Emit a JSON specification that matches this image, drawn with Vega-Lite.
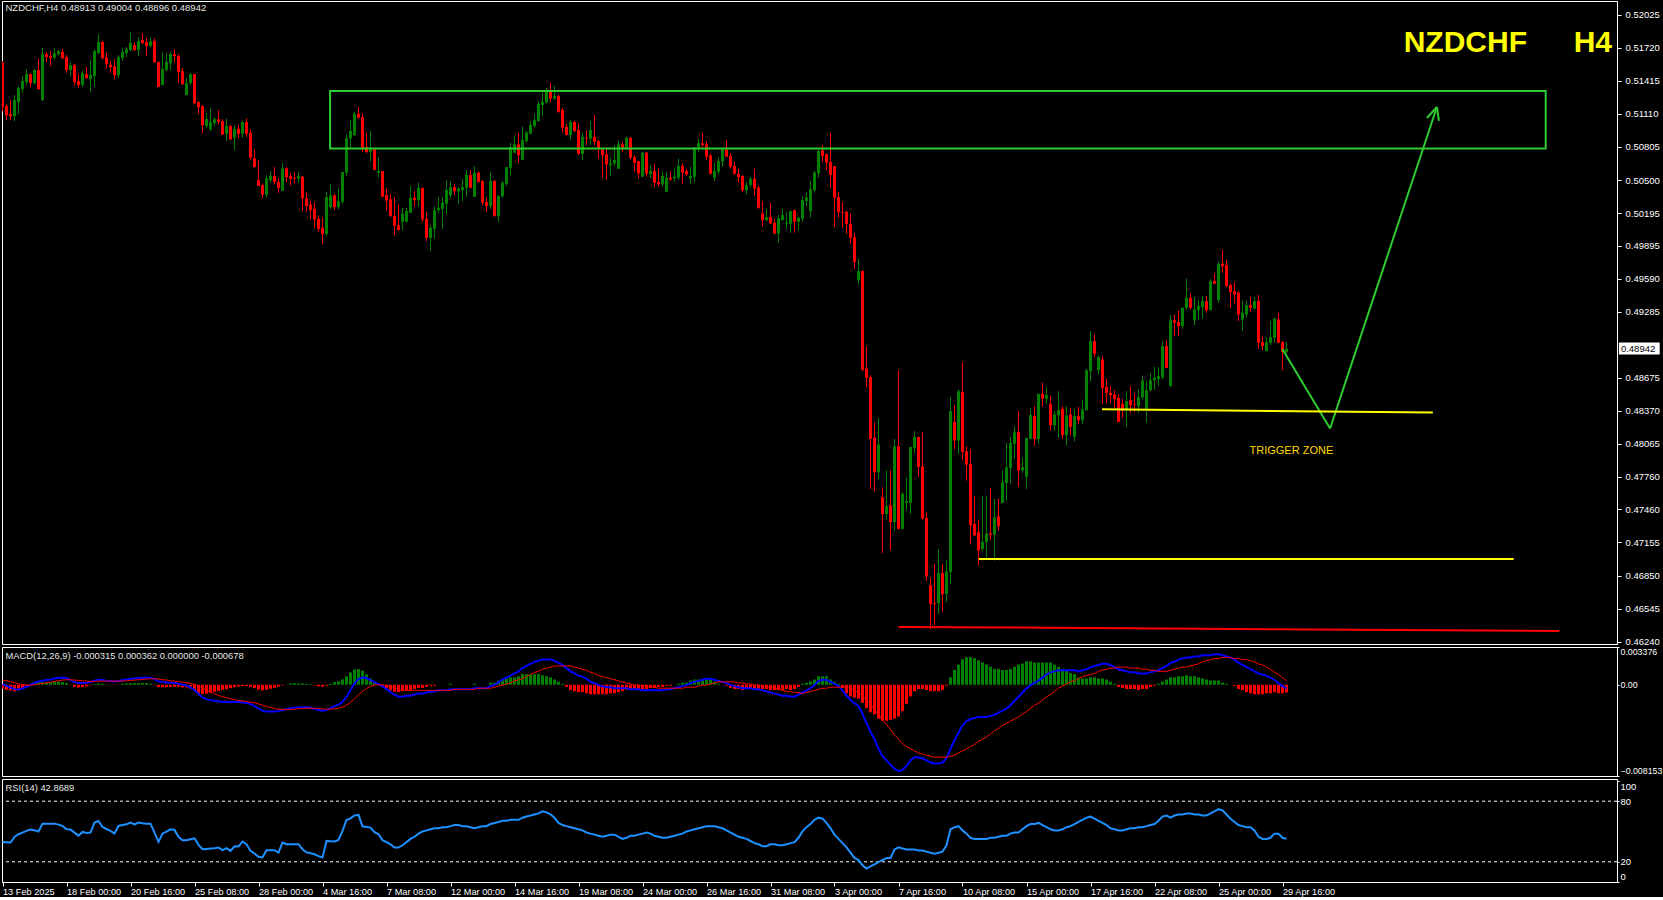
{
"$schema":"https://vega.github.io/schema/vega-lite/v6.json",
"background":"#000000",
"padding":{"left":1,"top":0,"right":0,"bottom":0},
"bounds":"flush",
"spacing":3,
"config":{
 "view":{"stroke":"#ffffff","strokeWidth":1},
 "axis":{"grid":false,"title":null,"domainColor":"#ffffff","tickColor":"#ffffff","labelColor":"#ffffff","labelFont":"Liberation Sans","labelFontSize":9.5,"tickSize":2,"labelPadding":1,"labelOverlap":false,"tickCount":30}
},
"datasets":{
"ohlc":[
{"i":0,"o":0.51582,"h":0.51597,"l":0.51135,"c":0.51172},
{"i":1,"o":0.51182,"h":0.51197,"l":0.51052,"c":0.51098},
{"i":2,"o":0.51108,"h":0.51237,"l":0.51052,"c":0.51089},
{"i":3,"o":0.51089,"h":0.51283,"l":0.51043,"c":0.51237},
{"i":4,"o":0.51219,"h":0.51360,"l":0.51108,"c":0.51351},
{"i":5,"o":0.51339,"h":0.51459,"l":0.51305,"c":0.51413},
{"i":6,"o":0.51403,"h":0.51524,"l":0.51382,"c":0.51477},
{"i":7,"o":0.51477,"h":0.51480,"l":0.51357,"c":0.51394},
{"i":8,"o":0.51394,"h":0.51524,"l":0.51382,"c":0.51514},
{"i":9,"o":0.51514,"h":0.51619,"l":0.51329,"c":0.51339},
{"i":10,"o":0.51237,"h":0.51718,"l":0.51230,"c":0.51662},
{"i":11,"o":0.51662,"h":0.51681,"l":0.51588,"c":0.51637},
{"i":12,"o":0.51644,"h":0.51690,"l":0.51551,"c":0.51628},
{"i":13,"o":0.51628,"h":0.51718,"l":0.51613,"c":0.51668},
{"i":14,"o":0.51662,"h":0.51699,"l":0.51650,"c":0.51690},
{"i":15,"o":0.51681,"h":0.51708,"l":0.51616,"c":0.51625},
{"i":16,"o":0.51634,"h":0.51653,"l":0.51490,"c":0.51514},
{"i":17,"o":0.51514,"h":0.51582,"l":0.51459,"c":0.51560},
{"i":18,"o":0.51560,"h":0.51576,"l":0.51373,"c":0.51403},
{"i":19,"o":0.51413,"h":0.51477,"l":0.51351,"c":0.51376},
{"i":20,"o":0.51376,"h":0.51505,"l":0.51360,"c":0.51487},
{"i":21,"o":0.51477,"h":0.51542,"l":0.51437,"c":0.51440},
{"i":22,"o":0.51431,"h":0.51607,"l":0.51311,"c":0.51468},
{"i":23,"o":0.51459,"h":0.51705,"l":0.51366,"c":0.51690},
{"i":24,"o":0.51671,"h":0.51847,"l":0.51662,"c":0.51773},
{"i":25,"o":0.51773,"h":0.51782,"l":0.51613,"c":0.51625},
{"i":26,"o":0.51634,"h":0.51674,"l":0.51527,"c":0.51570},
{"i":27,"o":0.51564,"h":0.51597,"l":0.51490,"c":0.51542},
{"i":28,"o":0.51551,"h":0.51616,"l":0.51431,"c":0.51468},
{"i":29,"o":0.51468,"h":0.51653,"l":0.51443,"c":0.51634},
{"i":30,"o":0.51625,"h":0.51721,"l":0.51601,"c":0.51681},
{"i":31,"o":0.51671,"h":0.51727,"l":0.51634,"c":0.51708},
{"i":32,"o":0.51699,"h":0.51865,"l":0.51690,"c":0.51764},
{"i":33,"o":0.51745,"h":0.51773,"l":0.51690,"c":0.51699},
{"i":34,"o":0.51699,"h":0.51819,"l":0.51647,"c":0.51782},
{"i":35,"o":0.51791,"h":0.51856,"l":0.51755,"c":0.51764},
{"i":36,"o":0.51773,"h":0.51810,"l":0.51644,"c":0.51736},
{"i":37,"o":0.51736,"h":0.51810,"l":0.51727,"c":0.51782},
{"i":38,"o":0.51782,"h":0.51807,"l":0.51579,"c":0.51588},
{"i":39,"o":0.51588,"h":0.51597,"l":0.51357,"c":0.51357},
{"i":40,"o":0.51376,"h":0.51681,"l":0.51376,"c":0.51524},
{"i":41,"o":0.51514,"h":0.51671,"l":0.51505,"c":0.51588},
{"i":42,"o":0.51579,"h":0.51681,"l":0.51514,"c":0.51662},
{"i":43,"o":0.51662,"h":0.51708,"l":0.51588,"c":0.51644},
{"i":44,"o":0.51644,"h":0.51662,"l":0.51394,"c":0.51496},
{"i":45,"o":0.51505,"h":0.51533,"l":0.51376,"c":0.51385},
{"i":46,"o":0.51283,"h":0.51440,"l":0.51283,"c":0.51394},
{"i":47,"o":0.51394,"h":0.51487,"l":0.51376,"c":0.51477},
{"i":48,"o":0.51477,"h":0.51477,"l":0.51200,"c":0.51209},
{"i":49,"o":0.51219,"h":0.51228,"l":0.51108,"c":0.51172},
{"i":50,"o":0.51182,"h":0.51191,"l":0.50932,"c":0.51006},
{"i":51,"o":0.50997,"h":0.51117,"l":0.50978,"c":0.51062},
{"i":52,"o":0.50969,"h":0.51163,"l":0.50951,"c":0.51034},
{"i":53,"o":0.51025,"h":0.51080,"l":0.50997,"c":0.51062},
{"i":54,"o":0.51060,"h":0.51143,"l":0.51014,"c":0.51035},
{"i":55,"o":0.51044,"h":0.51060,"l":0.50915,"c":0.50921},
{"i":56,"o":0.50927,"h":0.51066,"l":0.50860,"c":0.50998},
{"i":57,"o":0.50998,"h":0.51007,"l":0.50869,"c":0.50875},
{"i":58,"o":0.50890,"h":0.50998,"l":0.50776,"c":0.50974},
{"i":59,"o":0.50974,"h":0.51007,"l":0.50884,"c":0.50927},
{"i":60,"o":0.50927,"h":0.51044,"l":0.50890,"c":0.51035},
{"i":61,"o":0.51035,"h":0.51069,"l":0.50897,"c":0.50927},
{"i":62,"o":0.50937,"h":0.50967,"l":0.50684,"c":0.50706},
{"i":63,"o":0.50699,"h":0.50783,"l":0.50613,"c":0.50619},
{"i":64,"o":0.50499,"h":0.50684,"l":0.50444,"c":0.50444},
{"i":65,"o":0.50453,"h":0.50468,"l":0.50330,"c":0.50364},
{"i":66,"o":0.50364,"h":0.50542,"l":0.50336,"c":0.50515},
{"i":67,"o":0.50499,"h":0.50582,"l":0.50475,"c":0.50536},
{"i":68,"o":0.50536,"h":0.50619,"l":0.50459,"c":0.50481},
{"i":69,"o":0.50481,"h":0.50512,"l":0.50382,"c":0.50428},
{"i":70,"o":0.50401,"h":0.50653,"l":0.50401,"c":0.50607},
{"i":71,"o":0.50607,"h":0.50619,"l":0.50481,"c":0.50527},
{"i":72,"o":0.50536,"h":0.50561,"l":0.50450,"c":0.50512},
{"i":73,"o":0.50521,"h":0.50573,"l":0.50468,"c":0.50512},
{"i":74,"o":0.50512,"h":0.50573,"l":0.50475,"c":0.50536},
{"i":75,"o":0.50530,"h":0.50536,"l":0.50213,"c":0.50330},
{"i":76,"o":0.50330,"h":0.50388,"l":0.50207,"c":0.50259},
{"i":77,"o":0.50274,"h":0.50311,"l":0.50136,"c":0.50222},
{"i":78,"o":0.50234,"h":0.50296,"l":0.50059,"c":0.50136},
{"i":79,"o":0.50142,"h":0.50173,"l":0.50022,"c":0.50050},
{"i":80,"o":0.50059,"h":0.50157,"l":0.49911,"c":0.50003},
{"i":81,"o":0.50003,"h":0.50388,"l":0.49982,"c":0.50342},
{"i":82,"o":0.50250,"h":0.50459,"l":0.50234,"c":0.50358},
{"i":83,"o":0.50358,"h":0.50373,"l":0.50222,"c":0.50250},
{"i":84,"o":0.50250,"h":0.50422,"l":0.50228,"c":0.50305},
{"i":85,"o":0.50299,"h":0.50573,"l":0.50281,"c":0.50573},
{"i":86,"o":0.50567,"h":0.50921,"l":0.50539,"c":0.50884},
{"i":87,"o":0.50884,"h":0.51054,"l":0.50798,"c":0.50952},
{"i":88,"o":0.50915,"h":0.51128,"l":0.50906,"c":0.51112},
{"i":89,"o":0.51112,"h":0.51174,"l":0.51069,"c":0.51075},
{"i":90,"o":0.51081,"h":0.51115,"l":0.50758,"c":0.50798},
{"i":91,"o":0.50804,"h":0.50937,"l":0.50746,"c":0.50758},
{"i":92,"o":0.50761,"h":0.50952,"l":0.50669,"c":0.50783},
{"i":93,"o":0.50783,"h":0.50789,"l":0.50592,"c":0.50592},
{"i":94,"o":0.50567,"h":0.50712,"l":0.50521,"c":0.50582},
{"i":95,"o":0.50582,"h":0.50582,"l":0.50345,"c":0.50345},
{"i":96,"o":0.50361,"h":0.50419,"l":0.50219,"c":0.50311},
{"i":97,"o":0.50321,"h":0.50367,"l":0.50157,"c":0.50167},
{"i":98,"o":0.50167,"h":0.50342,"l":0.49991,"c":0.50080},
{"i":99,"o":0.50083,"h":0.50274,"l":0.50037,"c":0.50037},
{"i":100,"o":0.50114,"h":0.50244,"l":0.50037,"c":0.50188},
{"i":101,"o":0.50114,"h":0.50244,"l":0.50114,"c":0.50213},
{"i":102,"o":0.50197,"h":0.50444,"l":0.50197,"c":0.50336},
{"i":103,"o":0.50336,"h":0.50398,"l":0.50259,"c":0.50314},
{"i":104,"o":0.50314,"h":0.50475,"l":0.50253,"c":0.50428},
{"i":105,"o":0.50428,"h":0.50428,"l":0.50114,"c":0.50136},
{"i":106,"o":0.50142,"h":0.50204,"l":0.49936,"c":0.49966},
{"i":107,"o":0.49966,"h":0.50083,"l":0.49849,"c":0.50059},
{"i":108,"o":0.50049,"h":0.50259,"l":0.49957,"c":0.50222},
{"i":109,"o":0.50222,"h":0.50342,"l":0.50197,"c":0.50243},
{"i":110,"o":0.50234,"h":0.50342,"l":0.50049,"c":0.50290},
{"i":111,"o":0.50280,"h":0.50499,"l":0.50188,"c":0.50407},
{"i":112,"o":0.50360,"h":0.50490,"l":0.50336,"c":0.50434},
{"i":113,"o":0.50434,"h":0.50465,"l":0.50360,"c":0.50397},
{"i":114,"o":0.50397,"h":0.50434,"l":0.50280,"c":0.50419},
{"i":115,"o":0.50407,"h":0.50511,"l":0.50305,"c":0.50434},
{"i":116,"o":0.50428,"h":0.50591,"l":0.50345,"c":0.50545},
{"i":117,"o":0.50545,"h":0.50591,"l":0.50428,"c":0.50428},
{"i":118,"o":0.50345,"h":0.50628,"l":0.50345,"c":0.50567},
{"i":119,"o":0.50567,"h":0.50582,"l":0.50474,"c":0.50484},
{"i":120,"o":0.50490,"h":0.50499,"l":0.50265,"c":0.50290},
{"i":121,"o":0.50296,"h":0.50336,"l":0.50206,"c":0.50259},
{"i":122,"o":0.50259,"h":0.50573,"l":0.50234,"c":0.50490},
{"i":123,"o":0.50490,"h":0.50499,"l":0.50166,"c":0.50166},
{"i":124,"o":0.50166,"h":0.50360,"l":0.50114,"c":0.50351},
{"i":125,"o":0.50351,"h":0.50490,"l":0.50336,"c":0.50474},
{"i":126,"o":0.50465,"h":0.50619,"l":0.50444,"c":0.50619},
{"i":127,"o":0.50613,"h":0.50844,"l":0.50545,"c":0.50804},
{"i":128,"o":0.50752,"h":0.50906,"l":0.50752,"c":0.50829},
{"i":129,"o":0.50829,"h":0.50936,"l":0.50659,"c":0.50730},
{"i":130,"o":0.50687,"h":0.50992,"l":0.50687,"c":0.50869},
{"i":131,"o":0.50860,"h":0.50952,"l":0.50844,"c":0.50936},
{"i":132,"o":0.50927,"h":0.51044,"l":0.50921,"c":0.51007},
{"i":133,"o":0.50998,"h":0.51112,"l":0.50983,"c":0.51053},
{"i":134,"o":0.51044,"h":0.51229,"l":0.51038,"c":0.51204},
{"i":135,"o":0.51192,"h":0.51306,"l":0.51090,"c":0.51220},
{"i":136,"o":0.51214,"h":0.51349,"l":0.51207,"c":0.51321},
{"i":137,"o":0.51321,"h":0.51398,"l":0.51214,"c":0.51251},
{"i":138,"o":0.51251,"h":0.51368,"l":0.51238,"c":0.51275},
{"i":139,"o":0.51275,"h":0.51291,"l":0.51121,"c":0.51130},
{"i":140,"o":0.51146,"h":0.51164,"l":0.50936,"c":0.50983},
{"i":141,"o":0.50989,"h":0.51020,"l":0.50912,"c":0.50915},
{"i":142,"o":0.50915,"h":0.51053,"l":0.50875,"c":0.51035},
{"i":143,"o":0.51035,"h":0.51044,"l":0.50943,"c":0.50952},
{"i":144,"o":0.50961,"h":0.51023,"l":0.50730,"c":0.50742},
{"i":145,"o":0.50742,"h":0.50936,"l":0.50681,"c":0.50899},
{"i":146,"o":0.50890,"h":0.50961,"l":0.50822,"c":0.50881},
{"i":147,"o":0.50881,"h":0.51044,"l":0.50822,"c":0.50961},
{"i":148,"o":0.50899,"h":0.51100,"l":0.50822,"c":0.50853},
{"i":149,"o":0.50860,"h":0.50869,"l":0.50696,"c":0.50792},
{"i":150,"o":0.50782,"h":0.50782,"l":0.50527,"c":0.50727},
{"i":151,"o":0.50736,"h":0.50782,"l":0.50505,"c":0.50644},
{"i":152,"o":0.50635,"h":0.50705,"l":0.50536,"c":0.50653},
{"i":153,"o":0.50653,"h":0.50822,"l":0.50628,"c":0.50684},
{"i":154,"o":0.50604,"h":0.50860,"l":0.50604,"c":0.50829},
{"i":155,"o":0.50829,"h":0.50850,"l":0.50758,"c":0.50798},
{"i":156,"o":0.50798,"h":0.50899,"l":0.50789,"c":0.50890},
{"i":157,"o":0.50890,"h":0.50896,"l":0.50690,"c":0.50705},
{"i":158,"o":0.50712,"h":0.50727,"l":0.50576,"c":0.50659},
{"i":159,"o":0.50675,"h":0.50675,"l":0.50514,"c":0.50561},
{"i":160,"o":0.50530,"h":0.50758,"l":0.50530,"c":0.50752},
{"i":161,"o":0.50752,"h":0.50758,"l":0.50530,"c":0.50558},
{"i":162,"o":0.50552,"h":0.50629,"l":0.50521,"c":0.50583},
{"i":163,"o":0.50583,"h":0.50651,"l":0.50438,"c":0.50475},
{"i":164,"o":0.50481,"h":0.50605,"l":0.50438,"c":0.50460},
{"i":165,"o":0.50460,"h":0.50574,"l":0.50444,"c":0.50537},
{"i":166,"o":0.50392,"h":0.50574,"l":0.50392,"c":0.50521},
{"i":167,"o":0.50521,"h":0.50583,"l":0.50491,"c":0.50505},
{"i":168,"o":0.50515,"h":0.50605,"l":0.50484,"c":0.50531},
{"i":169,"o":0.50521,"h":0.50697,"l":0.50500,"c":0.50629},
{"i":170,"o":0.50629,"h":0.50651,"l":0.50466,"c":0.50568},
{"i":171,"o":0.50583,"h":0.50605,"l":0.50537,"c":0.50552},
{"i":172,"o":0.50515,"h":0.50620,"l":0.50466,"c":0.50537},
{"i":173,"o":0.50531,"h":0.50805,"l":0.50475,"c":0.50799},
{"i":174,"o":0.50799,"h":0.50882,"l":0.50762,"c":0.50839},
{"i":175,"o":0.50839,"h":0.50934,"l":0.50799,"c":0.50823},
{"i":176,"o":0.50829,"h":0.50860,"l":0.50682,"c":0.50715},
{"i":177,"o":0.50728,"h":0.50737,"l":0.50552,"c":0.50558},
{"i":178,"o":0.50521,"h":0.50660,"l":0.50491,"c":0.50583},
{"i":179,"o":0.50577,"h":0.50706,"l":0.50552,"c":0.50675},
{"i":180,"o":0.50669,"h":0.50799,"l":0.50620,"c":0.50783},
{"i":181,"o":0.50783,"h":0.50869,"l":0.50715,"c":0.50715},
{"i":182,"o":0.50722,"h":0.50743,"l":0.50605,"c":0.50623},
{"i":183,"o":0.50629,"h":0.50666,"l":0.50552,"c":0.50558},
{"i":184,"o":0.50558,"h":0.50605,"l":0.50475,"c":0.50528},
{"i":185,"o":0.50537,"h":0.50543,"l":0.50389,"c":0.50404},
{"i":186,"o":0.50404,"h":0.50481,"l":0.50367,"c":0.50454},
{"i":187,"o":0.50454,"h":0.50528,"l":0.50429,"c":0.50512},
{"i":188,"o":0.50512,"h":0.50605,"l":0.50352,"c":0.50420},
{"i":189,"o":0.50429,"h":0.50451,"l":0.50235,"c":0.50244},
{"i":190,"o":0.50189,"h":0.50306,"l":0.50069,"c":0.50130},
{"i":191,"o":0.50130,"h":0.50238,"l":0.50121,"c":0.50158},
{"i":192,"o":0.50158,"h":0.50290,"l":0.50090,"c":0.50099},
{"i":193,"o":0.50106,"h":0.50136,"l":0.49998,"c":0.50007},
{"i":194,"o":0.50007,"h":0.50176,"l":0.49921,"c":0.50146},
{"i":195,"o":0.50130,"h":0.50238,"l":0.50130,"c":0.50176},
{"i":196,"o":0.50096,"h":0.50204,"l":0.50050,"c":0.50106},
{"i":197,"o":0.50096,"h":0.50213,"l":0.50013,"c":0.50213},
{"i":198,"o":0.50220,"h":0.50229,"l":0.50013,"c":0.50115},
{"i":199,"o":0.50115,"h":0.50161,"l":0.50038,"c":0.50152},
{"i":200,"o":0.50143,"h":0.50352,"l":0.50112,"c":0.50315},
{"i":201,"o":0.50306,"h":0.50383,"l":0.50260,"c":0.50337},
{"i":202,"o":0.50213,"h":0.50491,"l":0.50152,"c":0.50414},
{"i":203,"o":0.50407,"h":0.50583,"l":0.50383,"c":0.50568},
{"i":204,"o":0.50561,"h":0.50783,"l":0.50521,"c":0.50768},
{"i":205,"o":0.50774,"h":0.50823,"l":0.50666,"c":0.50722},
{"i":206,"o":0.50737,"h":0.50746,"l":0.50592,"c":0.50660},
{"i":207,"o":0.50666,"h":0.50934,"l":0.50429,"c":0.50546},
{"i":208,"o":0.50629,"h":0.50629,"l":0.50066,"c":0.50337},
{"i":209,"o":0.50343,"h":0.50389,"l":0.50152,"c":0.50207},
{"i":210,"o":0.50207,"h":0.50297,"l":0.50059,"c":0.50198},
{"i":211,"o":0.50207,"h":0.50213,"l":0.50004,"c":0.50096},
{"i":212,"o":0.50096,"h":0.50192,"l":0.49912,"c":0.49967},
{"i":213,"o":0.49973,"h":0.50013,"l":0.49681,"c":0.49742},
{"i":214,"o":0.49576,"h":0.49773,"l":0.49536,"c":0.49659},
{"i":215,"o":0.49659,"h":0.49665,"l":0.48735,"c":0.48750},
{"i":216,"o":0.48761,"h":0.48967,"l":0.48588,"c":0.48675},
{"i":217,"o":0.48681,"h":0.48699,"l":0.47649,"c":0.48111},
{"i":218,"o":0.48120,"h":0.48259,"l":0.47627,"c":0.47803},
{"i":219,"o":0.47803,"h":0.48305,"l":0.47741,"c":0.48059},
{"i":220,"o":0.47572,"h":0.47664,"l":0.47058,"c":0.47418},
{"i":221,"o":0.47418,"h":0.47821,"l":0.47366,"c":0.47489},
{"i":222,"o":0.47498,"h":0.47821,"l":0.47082,"c":0.47344},
{"i":223,"o":0.47344,"h":0.48111,"l":0.47267,"c":0.48043},
{"i":224,"o":0.48043,"h":0.48745,"l":0.47273,"c":0.47282},
{"i":225,"o":0.47282,"h":0.47618,"l":0.47273,"c":0.47603},
{"i":226,"o":0.47520,"h":0.47751,"l":0.47458,"c":0.47535},
{"i":227,"o":0.47520,"h":0.48037,"l":0.47418,"c":0.48037},
{"i":228,"o":0.48028,"h":0.48182,"l":0.47982,"c":0.48129},
{"i":229,"o":0.48129,"h":0.48129,"l":0.47760,"c":0.47852},
{"i":230,"o":0.47858,"h":0.48176,"l":0.47366,"c":0.47375},
{"i":231,"o":0.47381,"h":0.47436,"l":0.46802,"c":0.46842},
{"i":232,"o":0.46759,"h":0.46827,"l":0.46355,"c":0.46586},
{"i":233,"o":0.46596,"h":0.46956,"l":0.46395,"c":0.46586},
{"i":234,"o":0.46596,"h":0.47095,"l":0.46494,"c":0.46873},
{"i":235,"o":0.46873,"h":0.46956,"l":0.46512,"c":0.46679},
{"i":236,"o":0.46679,"h":0.46990,"l":0.46605,"c":0.46888},
{"i":237,"o":0.46882,"h":0.48496,"l":0.46771,"c":0.48367},
{"i":238,"o":0.48265,"h":0.48422,"l":0.48019,"c":0.48096},
{"i":239,"o":0.48096,"h":0.48567,"l":0.47972,"c":0.48551},
{"i":240,"o":0.48542,"h":0.48819,"l":0.47911,"c":0.47991},
{"i":241,"o":0.47997,"h":0.48043,"l":0.47726,"c":0.47874},
{"i":242,"o":0.47880,"h":0.48019,"l":0.47135,"c":0.47313},
{"i":243,"o":0.47326,"h":0.47581,"l":0.47212,"c":0.47221},
{"i":244,"o":0.47249,"h":0.47366,"l":0.46941,"c":0.47082},
{"i":245,"o":0.47095,"h":0.47581,"l":0.47073,"c":0.47159},
{"i":246,"o":0.47159,"h":0.47581,"l":0.47005,"c":0.47239},
{"i":247,"o":0.47239,"h":0.47658,"l":0.47181,"c":0.47227},
{"i":248,"o":0.47227,"h":0.47557,"l":0.46987,"c":0.47387},
{"i":249,"o":0.47396,"h":0.47560,"l":0.47264,"c":0.47304},
{"i":250,"o":0.47520,"h":0.47821,"l":0.47520,"c":0.47711},
{"i":251,"o":0.47704,"h":0.48074,"l":0.47541,"c":0.47849},
{"i":252,"o":0.47843,"h":0.48129,"l":0.47698,"c":0.48074},
{"i":253,"o":0.48065,"h":0.48228,"l":0.47926,"c":0.48173},
{"i":254,"o":0.48173,"h":0.48367,"l":0.47667,"c":0.47821},
{"i":255,"o":0.47821,"h":0.47935,"l":0.47797,"c":0.47849},
{"i":256,"o":0.47760,"h":0.48120,"l":0.47649,"c":0.48120},
{"i":257,"o":0.48111,"h":0.48397,"l":0.48105,"c":0.48330},
{"i":258,"o":0.48320,"h":0.48413,"l":0.48049,"c":0.48111},
{"i":259,"o":0.48111,"h":0.48527,"l":0.48065,"c":0.48527},
{"i":260,"o":0.48527,"h":0.48628,"l":0.48407,"c":0.48481},
{"i":261,"o":0.48481,"h":0.48588,"l":0.48434,"c":0.48514},
{"i":262,"o":0.48434,"h":0.48505,"l":0.48188,"c":0.48237},
{"i":263,"o":0.48237,"h":0.48367,"l":0.48188,"c":0.48336},
{"i":264,"o":0.48330,"h":0.48551,"l":0.48120,"c":0.48376},
{"i":265,"o":0.48388,"h":0.48413,"l":0.48111,"c":0.48145},
{"i":266,"o":0.48145,"h":0.48413,"l":0.48049,"c":0.48327},
{"i":267,"o":0.48336,"h":0.48397,"l":0.48142,"c":0.48222},
{"i":268,"o":0.48129,"h":0.48382,"l":0.48089,"c":0.48320},
{"i":269,"o":0.48320,"h":0.48406,"l":0.48249,"c":0.48283},
{"i":270,"o":0.48283,"h":0.48474,"l":0.48249,"c":0.48382},
{"i":271,"o":0.48375,"h":0.48757,"l":0.48375,"c":0.48745},
{"i":272,"o":0.48736,"h":0.49105,"l":0.48643,"c":0.49013},
{"i":273,"o":0.49013,"h":0.49075,"l":0.48868,"c":0.48896},
{"i":274,"o":0.48745,"h":0.48881,"l":0.48705,"c":0.48865},
{"i":275,"o":0.48844,"h":0.48874,"l":0.48434,"c":0.48582},
{"i":276,"o":0.48591,"h":0.48665,"l":0.48443,"c":0.48536},
{"i":277,"o":0.48536,"h":0.48597,"l":0.48437,"c":0.48514},
{"i":278,"o":0.48520,"h":0.48560,"l":0.48397,"c":0.48480},
{"i":279,"o":0.48489,"h":0.48520,"l":0.48268,"c":0.48268},
{"i":280,"o":0.48434,"h":0.48480,"l":0.48305,"c":0.48382},
{"i":281,"o":0.48382,"h":0.48551,"l":0.48221,"c":0.48459},
{"i":282,"o":0.48468,"h":0.48597,"l":0.48351,"c":0.48422},
{"i":283,"o":0.48428,"h":0.48529,"l":0.48360,"c":0.48422},
{"i":284,"o":0.48412,"h":0.48566,"l":0.48351,"c":0.48496},
{"i":285,"o":0.48496,"h":0.48696,"l":0.48474,"c":0.48650},
{"i":286,"o":0.48388,"h":0.48643,"l":0.48258,"c":0.48560},
{"i":287,"o":0.48560,"h":0.48714,"l":0.48551,"c":0.48653},
{"i":288,"o":0.48650,"h":0.48773,"l":0.48566,"c":0.48674},
{"i":289,"o":0.48665,"h":0.48773,"l":0.48603,"c":0.48690},
{"i":290,"o":0.48680,"h":0.49004,"l":0.48659,"c":0.48967},
{"i":291,"o":0.48967,"h":0.49022,"l":0.48767,"c":0.48767},
{"i":292,"o":0.48597,"h":0.49253,"l":0.48597,"c":0.49207},
{"i":293,"o":0.49207,"h":0.49259,"l":0.49059,"c":0.49182},
{"i":294,"o":0.49189,"h":0.49296,"l":0.49059,"c":0.49152},
{"i":295,"o":0.49152,"h":0.49321,"l":0.49127,"c":0.49321},
{"i":296,"o":0.49321,"h":0.49589,"l":0.49306,"c":0.49413},
{"i":297,"o":0.49413,"h":0.49453,"l":0.49306,"c":0.49321},
{"i":298,"o":0.49207,"h":0.49420,"l":0.49161,"c":0.49306},
{"i":299,"o":0.49299,"h":0.49392,"l":0.49207,"c":0.49337},
{"i":300,"o":0.49327,"h":0.49429,"l":0.49219,"c":0.49383},
{"i":301,"o":0.49383,"h":0.49429,"l":0.49275,"c":0.49299},
{"i":302,"o":0.49299,"h":0.49583,"l":0.49299,"c":0.49567},
{"i":303,"o":0.49567,"h":0.49635,"l":0.49543,"c":0.49543},
{"i":304,"o":0.49392,"h":0.49746,"l":0.49367,"c":0.49728},
{"i":305,"o":0.49728,"h":0.49854,"l":0.49644,"c":0.49706},
{"i":306,"o":0.49715,"h":0.49761,"l":0.49512,"c":0.49521},
{"i":307,"o":0.49530,"h":0.49543,"l":0.49321,"c":0.49466},
{"i":308,"o":0.49475,"h":0.49558,"l":0.49361,"c":0.49444},
{"i":309,"o":0.49460,"h":0.49475,"l":0.49198,"c":0.49259},
{"i":310,"o":0.49213,"h":0.49389,"l":0.49105,"c":0.49275},
{"i":311,"o":0.49259,"h":0.49389,"l":0.49229,"c":0.49346},
{"i":312,"o":0.49346,"h":0.49420,"l":0.49284,"c":0.49321},
{"i":313,"o":0.49312,"h":0.49423,"l":0.49306,"c":0.49383},
{"i":314,"o":0.49383,"h":0.49438,"l":0.48942,"c":0.48998},
{"i":315,"o":0.49004,"h":0.49065,"l":0.48930,"c":0.48967},
{"i":316,"o":0.48921,"h":0.49050,"l":0.48921,"c":0.49004},
{"i":317,"o":0.48998,"h":0.49198,"l":0.48976,"c":0.49050},
{"i":318,"o":0.49044,"h":0.49229,"l":0.48998,"c":0.49222},
{"i":319,"o":0.49213,"h":0.49275,"l":0.48998,"c":0.48998},
{"i":320,"o":0.49004,"h":0.49013,"l":0.48745,"c":0.48914},
{"i":321,"o":0.48913,"h":0.49004,"l":0.48896,"c":0.48942}
],
"macd":[
{"i":0,"m":0.00006,"s":0.00042,"h":-0.00036},
{"i":1,"m":-0.00009,"s":0.00036,"h":-0.00045},
{"i":2,"m":-0.00024,"s":0.00027,"h":-0.00051},
{"i":3,"m":-0.00039,"s":0.00018,"h":-0.00057},
{"i":4,"m":-0.00042,"s":0.00009,"h":-0.00051},
{"i":5,"m":-0.00033,"s":0.00003,"h":-0.00036},
{"i":6,"m":-0.00018,"s":-0.00003,"h":-0.00015},
{"i":7,"m":0.0,"s":-0.00003,"h":0.00003},
{"i":8,"m":0.00018,"s":0.0,"h":0.00018},
{"i":9,"m":0.0003,"s":0.00006,"h":0.00024},
{"i":10,"m":0.00036,"s":0.00012,"h":0.00024},
{"i":11,"m":0.00042,"s":0.00018,"h":0.00024},
{"i":12,"m":0.00048,"s":0.00024,"h":0.00024},
{"i":13,"m":0.00057,"s":0.0003,"h":0.00027},
{"i":14,"m":0.00063,"s":0.00036,"h":0.00027},
{"i":15,"m":0.00066,"s":0.00042,"h":0.00024},
{"i":16,"m":0.0006,"s":0.00045,"h":0.00015},
{"i":17,"m":0.00042,"s":0.00045,"h":-0.00003},
{"i":18,"m":0.00024,"s":0.00042,"h":-0.00018},
{"i":19,"m":0.00015,"s":0.00039,"h":-0.00024},
{"i":20,"m":0.00015,"s":0.00036,"h":-0.00021},
{"i":21,"m":0.00018,"s":0.00033,"h":-0.00015},
{"i":22,"m":0.00024,"s":0.0003,"h":-0.00006},
{"i":23,"m":0.00036,"s":0.0003,"h":0.00006},
{"i":24,"m":0.00045,"s":0.00033,"h":0.00012},
{"i":25,"m":0.00042,"s":0.00033,"h":0.00009},
{"i":26,"m":0.00036,"s":0.00033,"h":0.00003},
{"i":27,"m":0.00033,"s":0.00033,"h":0.0},
{"i":28,"m":0.0003,"s":0.00033,"h":-0.00003},
{"i":29,"m":0.00033,"s":0.00033,"h":0.0},
{"i":30,"m":0.00042,"s":0.00033,"h":0.00009},
{"i":31,"m":0.00048,"s":0.00036,"h":0.00012},
{"i":32,"m":0.00054,"s":0.00039,"h":0.00015},
{"i":33,"m":0.00057,"s":0.00042,"h":0.00015},
{"i":34,"m":0.0006,"s":0.00045,"h":0.00015},
{"i":35,"m":0.00063,"s":0.00048,"h":0.00015},
{"i":36,"m":0.00066,"s":0.00051,"h":0.00015},
{"i":37,"m":0.00063,"s":0.00054,"h":0.00009},
{"i":38,"m":0.00051,"s":0.00054,"h":-0.00003},
{"i":39,"m":0.0003,"s":0.00051,"h":-0.00021},
{"i":40,"m":0.00024,"s":0.00045,"h":-0.00021},
{"i":41,"m":0.00021,"s":0.00042,"h":-0.00021},
{"i":42,"m":0.00018,"s":0.00036,"h":-0.00018},
{"i":43,"m":0.00015,"s":0.00033,"h":-0.00018},
{"i":44,"m":0.00009,"s":0.00027,"h":-0.00018},
{"i":45,"m":0.0,"s":0.00024,"h":-0.00024},
{"i":46,"m":-0.00006,"s":0.00018,"h":-0.00024},
{"i":47,"m":-0.00024,"s":0.00012,"h":-0.00036},
{"i":48,"m":-0.00048,"s":0.00003,"h":-0.00051},
{"i":49,"m":-0.00083,"s":-0.00012,"h":-0.00071},
{"i":50,"m":-0.00113,"s":-0.0003,"h":-0.00083},
{"i":51,"m":-0.00128,"s":-0.00048,"h":-0.0008},
{"i":52,"m":-0.00137,"s":-0.00066,"h":-0.00071},
{"i":53,"m":-0.00143,"s":-0.0008,"h":-0.00063},
{"i":54,"m":-0.00149,"s":-0.00095,"h":-0.00054},
{"i":55,"m":-0.00152,"s":-0.00107,"h":-0.00045},
{"i":56,"m":-0.00155,"s":-0.00116,"h":-0.00039},
{"i":57,"m":-0.00155,"s":-0.00125,"h":-0.0003},
{"i":58,"m":-0.00155,"s":-0.00134,"h":-0.00021},
{"i":59,"m":-0.00155,"s":-0.0014,"h":-0.00015},
{"i":60,"m":-0.00158,"s":-0.00146,"h":-0.00012},
{"i":61,"m":-0.00161,"s":-0.00149,"h":-0.00012},
{"i":62,"m":-0.00173,"s":-0.00155,"h":-0.00018},
{"i":63,"m":-0.00191,"s":-0.00161,"h":-0.0003},
{"i":64,"m":-0.00212,"s":-0.0017,"h":-0.00042},
{"i":65,"m":-0.00232,"s":-0.00182,"h":-0.0005},
{"i":66,"m":-0.00238,"s":-0.00194,"h":-0.00044},
{"i":67,"m":-0.00238,"s":-0.00203,"h":-0.00035},
{"i":68,"m":-0.00238,"s":-0.00212,"h":-0.00026},
{"i":69,"m":-0.00235,"s":-0.00218,"h":-0.00017},
{"i":70,"m":-0.00226,"s":-0.0022,"h":-0.00006},
{"i":71,"m":-0.00218,"s":-0.0022,"h":0.00002},
{"i":72,"m":-0.00209,"s":-0.0022,"h":0.00011},
{"i":73,"m":-0.00203,"s":-0.00218,"h":0.00015},
{"i":74,"m":-0.00203,"s":-0.00215,"h":0.00012},
{"i":75,"m":-0.002,"s":-0.00212,"h":0.00012},
{"i":76,"m":-0.002,"s":-0.00209,"h":0.00009},
{"i":77,"m":-0.00203,"s":-0.00209,"h":0.00006},
{"i":78,"m":-0.00215,"s":-0.00209,"h":-0.00006},
{"i":79,"m":-0.00226,"s":-0.00212,"h":-0.00014},
{"i":80,"m":-0.00232,"s":-0.00215,"h":-0.00017},
{"i":81,"m":-0.00226,"s":-0.00218,"h":-0.00008},
{"i":82,"m":-0.00209,"s":-0.00218,"h":0.00009},
{"i":83,"m":-0.00191,"s":-0.00215,"h":0.00024},
{"i":84,"m":-0.00179,"s":-0.00209,"h":0.0003},
{"i":85,"m":-0.00152,"s":-0.002,"h":0.00048},
{"i":86,"m":-0.00107,"s":-0.00182,"h":0.00075},
{"i":87,"m":-0.00048,"s":-0.00158,"h":0.0011},
{"i":88,"m":0.00012,"s":-0.00125,"h":0.00137},
{"i":89,"m":0.00051,"s":-0.00089,"h":0.0014},
{"i":90,"m":0.00066,"s":-0.0006,"h":0.00126},
{"i":91,"m":0.0006,"s":-0.00033,"h":0.00093},
{"i":92,"m":0.00042,"s":-0.00015,"h":0.00057},
{"i":93,"m":0.00024,"s":-0.00003,"h":0.00027},
{"i":94,"m":0.00006,"s":0.0,"h":0.00006},
{"i":95,"m":-0.00015,"s":0.0,"h":-0.00015},
{"i":96,"m":-0.00039,"s":-0.00006,"h":-0.00033},
{"i":97,"m":-0.00066,"s":-0.00015,"h":-0.00051},
{"i":98,"m":-0.00089,"s":-0.00027,"h":-0.00062},
{"i":99,"m":-0.00107,"s":-0.00042,"h":-0.00065},
{"i":100,"m":-0.00107,"s":-0.0005,"h":-0.00057},
{"i":101,"m":-0.00098,"s":-0.0005,"h":-0.00047},
{"i":102,"m":-0.00098,"s":-0.0005,"h":-0.00047},
{"i":103,"m":-0.00088,"s":-0.0005,"h":-0.00038},
{"i":104,"m":-0.00079,"s":-0.0005,"h":-0.00028},
{"i":105,"m":-0.00079,"s":-0.0005,"h":-0.00028},
{"i":106,"m":-0.00069,"s":-0.0005,"h":-0.00019},
{"i":107,"m":-0.0006,"s":-0.0005,"h":-0.00009},
{"i":108,"m":-0.0006,"s":-0.0005,"h":-0.00009},
{"i":109,"m":-0.0005,"s":-0.0005,"h":0.0},
{"i":110,"m":-0.0005,"s":-0.0005,"h":0.0},
{"i":111,"m":-0.0005,"s":-0.0005,"h":0.0},
{"i":112,"m":-0.00041,"s":-0.0005,"h":0.00009},
{"i":113,"m":-0.00041,"s":-0.00041,"h":0.0},
{"i":114,"m":-0.00041,"s":-0.00041,"h":0.0},
{"i":115,"m":-0.00041,"s":-0.00041,"h":0.0},
{"i":116,"m":-0.00041,"s":-0.00041,"h":0.0},
{"i":117,"m":-0.00041,"s":-0.00041,"h":0.0},
{"i":118,"m":-0.00031,"s":-0.00041,"h":0.00009},
{"i":119,"m":-0.00031,"s":-0.00031,"h":0.0},
{"i":120,"m":-0.00031,"s":-0.00031,"h":0.0},
{"i":121,"m":-0.00031,"s":-0.00031,"h":0.0},
{"i":122,"m":-0.00012,"s":-0.00031,"h":0.00019},
{"i":123,"m":-0.00003,"s":-0.00022,"h":0.00019},
{"i":124,"m":0.00026,"s":-0.00012,"h":0.00038},
{"i":125,"m":0.00045,"s":-0.00003,"h":0.00047},
{"i":126,"m":0.00064,"s":0.00007,"h":0.00057},
{"i":127,"m":0.00082,"s":0.00016,"h":0.00066},
{"i":128,"m":0.00101,"s":0.00035,"h":0.00066},
{"i":129,"m":0.0012,"s":0.00045,"h":0.00076},
{"i":130,"m":0.00149,"s":0.00054,"h":0.00095},
{"i":131,"m":0.00168,"s":0.00073,"h":0.00095},
{"i":132,"m":0.00187,"s":0.00092,"h":0.00095},
{"i":133,"m":0.00206,"s":0.00111,"h":0.00095},
{"i":134,"m":0.00215,"s":0.0012,"h":0.00095},
{"i":135,"m":0.00225,"s":0.00139,"h":0.00085},
{"i":136,"m":0.00225,"s":0.00149,"h":0.00076},
{"i":137,"m":0.00225,"s":0.00158,"h":0.00066},
{"i":138,"m":0.00215,"s":0.00168,"h":0.00047},
{"i":139,"m":0.00196,"s":0.00168,"h":0.00028},
{"i":140,"m":0.00177,"s":0.00168,"h":0.00009},
{"i":141,"m":0.00149,"s":0.00168,"h":-0.00019},
{"i":142,"m":0.0012,"s":0.00168,"h":-0.00047},
{"i":143,"m":0.00101,"s":0.00158,"h":-0.00057},
{"i":144,"m":0.00082,"s":0.00149,"h":-0.00066},
{"i":145,"m":0.00073,"s":0.00139,"h":-0.00066},
{"i":146,"m":0.00054,"s":0.0013,"h":-0.00076},
{"i":147,"m":0.00026,"s":0.00111,"h":-0.00085},
{"i":148,"m":0.00016,"s":0.00101,"h":-0.00085},
{"i":149,"m":-0.00003,"s":0.00082,"h":-0.00085},
{"i":150,"m":-0.00012,"s":0.00073,"h":-0.00085},
{"i":151,"m":-0.00022,"s":0.00064,"h":-0.00085},
{"i":152,"m":-0.00022,"s":0.00054,"h":-0.00076},
{"i":153,"m":-0.00031,"s":0.00045,"h":-0.00076},
{"i":154,"m":-0.00031,"s":0.00035,"h":-0.00066},
{"i":155,"m":-0.00031,"s":0.00026,"h":-0.00057},
{"i":156,"m":-0.00031,"s":0.00016,"h":-0.00047},
{"i":157,"m":-0.00041,"s":0.00007,"h":-0.00047},
{"i":158,"m":-0.00041,"s":-0.00003,"h":-0.00038},
{"i":159,"m":-0.00041,"s":-0.00003,"h":-0.00038},
{"i":160,"m":-0.0005,"s":-0.00012,"h":-0.00038},
{"i":161,"m":-0.0005,"s":-0.00012,"h":-0.00038},
{"i":162,"m":-0.0005,"s":-0.00022,"h":-0.00028},
{"i":163,"m":-0.0005,"s":-0.00022,"h":-0.00028},
{"i":164,"m":-0.0005,"s":-0.00031,"h":-0.00019},
{"i":165,"m":-0.0005,"s":-0.00031,"h":-0.00019},
{"i":166,"m":-0.00041,"s":-0.00031,"h":-0.00009},
{"i":167,"m":-0.00041,"s":-0.00031,"h":-0.00009},
{"i":168,"m":-0.00031,"s":-0.00031,"h":0.0},
{"i":169,"m":-0.00022,"s":-0.00031,"h":0.00009},
{"i":170,"m":-0.00012,"s":-0.00031,"h":0.00019},
{"i":171,"m":-0.00003,"s":-0.00022,"h":0.00019},
{"i":172,"m":0.00016,"s":-0.00022,"h":0.00038},
{"i":173,"m":0.00026,"s":-0.00022,"h":0.00047},
{"i":174,"m":0.00035,"s":-0.00012,"h":0.00047},
{"i":175,"m":0.00045,"s":-0.00003,"h":0.00047},
{"i":176,"m":0.00054,"s":-0.00003,"h":0.00057},
{"i":177,"m":0.00054,"s":0.00007,"h":0.00047},
{"i":178,"m":0.00045,"s":0.00016,"h":0.00028},
{"i":179,"m":0.00035,"s":0.00026,"h":0.00009},
{"i":180,"m":0.00026,"s":0.00026,"h":0.0},
{"i":181,"m":0.00016,"s":0.00026,"h":-0.00009},
{"i":182,"m":-0.00003,"s":0.00026,"h":-0.00028},
{"i":183,"m":-0.00012,"s":0.00026,"h":-0.00038},
{"i":184,"m":-0.00022,"s":0.00016,"h":-0.00038},
{"i":185,"m":-0.00031,"s":0.00016,"h":-0.00047},
{"i":186,"m":-0.00031,"s":0.00007,"h":-0.00038},
{"i":187,"m":-0.00031,"s":0.00007,"h":-0.00038},
{"i":188,"m":-0.00041,"s":-0.00003,"h":-0.00038},
{"i":189,"m":-0.00041,"s":-0.00003,"h":-0.00038},
{"i":190,"m":-0.0005,"s":-0.00012,"h":-0.00038},
{"i":191,"m":-0.0006,"s":-0.00022,"h":-0.00038},
{"i":192,"m":-0.00069,"s":-0.00022,"h":-0.00047},
{"i":193,"m":-0.00079,"s":-0.00031,"h":-0.00047},
{"i":194,"m":-0.00088,"s":-0.00041,"h":-0.00047},
{"i":195,"m":-0.00098,"s":-0.0005,"h":-0.00047},
{"i":196,"m":-0.00098,"s":-0.0006,"h":-0.00038},
{"i":197,"m":-0.00107,"s":-0.0006,"h":-0.00047},
{"i":198,"m":-0.00107,"s":-0.00069,"h":-0.00038},
{"i":199,"m":-0.00088,"s":-0.00069,"h":-0.00019},
{"i":200,"m":-0.00069,"s":-0.00079,"h":0.00009},
{"i":201,"m":-0.0005,"s":-0.00069,"h":0.00019},
{"i":202,"m":-0.00031,"s":-0.0006,"h":0.00028},
{"i":203,"m":-0.00003,"s":-0.0005,"h":0.00047},
{"i":204,"m":0.00035,"s":-0.00041,"h":0.00076},
{"i":205,"m":0.00045,"s":-0.00031,"h":0.00076},
{"i":206,"m":0.00045,"s":-0.00031,"h":0.00076},
{"i":207,"m":0.00026,"s":-0.00022,"h":0.00047},
{"i":208,"m":0.00007,"s":-0.00022,"h":0.00028},
{"i":209,"m":-0.00012,"s":-0.00022,"h":0.00009},
{"i":210,"m":-0.0005,"s":-0.00022,"h":-0.00028},
{"i":211,"m":-0.00098,"s":-0.00022,"h":-0.00076},
{"i":212,"m":-0.00136,"s":-0.00031,"h":-0.00104},
{"i":213,"m":-0.00164,"s":-0.0005,"h":-0.00114},
{"i":214,"m":-0.00192,"s":-0.00069,"h":-0.00123},
{"i":215,"m":-0.00259,"s":-0.00098,"h":-0.00161},
{"i":216,"m":-0.00344,"s":-0.00136,"h":-0.00209},
{"i":217,"m":-0.0042,"s":-0.00173,"h":-0.00246},
{"i":218,"m":-0.00486,"s":-0.00221,"h":-0.00265},
{"i":219,"m":-0.00572,"s":-0.00268,"h":-0.00303},
{"i":220,"m":-0.00638,"s":-0.00316,"h":-0.00322},
{"i":221,"m":-0.00676,"s":-0.00354,"h":-0.00322},
{"i":222,"m":-0.00714,"s":-0.00401,"h":-0.00313},
{"i":223,"m":-0.00752,"s":-0.00448,"h":-0.00303},
{"i":224,"m":-0.00771,"s":-0.00486,"h":-0.00284},
{"i":225,"m":-0.00762,"s":-0.00524,"h":-0.00237},
{"i":226,"m":-0.00724,"s":-0.00553,"h":-0.00171},
{"i":227,"m":-0.00676,"s":-0.00572,"h":-0.00104},
{"i":228,"m":-0.00647,"s":-0.00591,"h":-0.00057},
{"i":229,"m":-0.00647,"s":-0.0061,"h":-0.00038},
{"i":230,"m":-0.00657,"s":-0.00619,"h":-0.00038},
{"i":231,"m":-0.00676,"s":-0.00629,"h":-0.00047},
{"i":232,"m":-0.00695,"s":-0.00638,"h":-0.00057},
{"i":233,"m":-0.00704,"s":-0.00647,"h":-0.00057},
{"i":234,"m":-0.00704,"s":-0.00647,"h":-0.00057},
{"i":235,"m":-0.00695,"s":-0.00647,"h":-0.00047},
{"i":236,"m":-0.00657,"s":-0.00647,"h":-0.00009},
{"i":237,"m":-0.00572,"s":-0.00638,"h":0.00066},
{"i":238,"m":-0.00496,"s":-0.00629,"h":0.00133},
{"i":239,"m":-0.00429,"s":-0.0061,"h":0.0018},
{"i":240,"m":-0.00363,"s":-0.00591,"h":0.00228},
{"i":241,"m":-0.00325,"s":-0.00572,"h":0.00246},
{"i":242,"m":-0.00306,"s":-0.00553,"h":0.00246},
{"i":243,"m":-0.00297,"s":-0.00534,"h":0.00237},
{"i":244,"m":-0.00287,"s":-0.00505,"h":0.00218},
{"i":245,"m":-0.00287,"s":-0.00486,"h":0.00199},
{"i":246,"m":-0.00287,"s":-0.00467,"h":0.0018},
{"i":247,"m":-0.00278,"s":-0.00439,"h":0.00161},
{"i":248,"m":-0.00268,"s":-0.0041,"h":0.00142},
{"i":249,"m":-0.00249,"s":-0.00392,"h":0.00142},
{"i":250,"m":-0.0023,"s":-0.00363,"h":0.00133},
{"i":251,"m":-0.00211,"s":-0.00344,"h":0.00133},
{"i":252,"m":-0.00183,"s":-0.00325,"h":0.00142},
{"i":253,"m":-0.00145,"s":-0.00306,"h":0.00161},
{"i":254,"m":-0.00107,"s":-0.00287,"h":0.0018},
{"i":255,"m":-0.00069,"s":-0.00259,"h":0.0019},
{"i":256,"m":-0.00031,"s":-0.0024,"h":0.00209},
{"i":257,"m":-0.00003,"s":-0.00211,"h":0.00209},
{"i":258,"m":0.00016,"s":-0.00183,"h":0.00199},
{"i":259,"m":0.00035,"s":-0.00164,"h":0.00199},
{"i":260,"m":0.00064,"s":-0.00136,"h":0.00199},
{"i":261,"m":0.00092,"s":-0.00107,"h":0.00199},
{"i":262,"m":0.00111,"s":-0.00088,"h":0.00199},
{"i":263,"m":0.0012,"s":-0.0006,"h":0.0018},
{"i":264,"m":0.0013,"s":-0.00031,"h":0.00161},
{"i":265,"m":0.0013,"s":-0.00012,"h":0.00142},
{"i":266,"m":0.0013,"s":0.00007,"h":0.00123},
{"i":267,"m":0.0013,"s":0.00026,"h":0.00104},
{"i":268,"m":0.0013,"s":0.00035,"h":0.00095},
{"i":269,"m":0.0012,"s":0.00054,"h":0.00066},
{"i":270,"m":0.0013,"s":0.00073,"h":0.00057},
{"i":271,"m":0.00139,"s":0.00082,"h":0.00057},
{"i":272,"m":0.00158,"s":0.00092,"h":0.00066},
{"i":273,"m":0.00168,"s":0.00101,"h":0.00066},
{"i":274,"m":0.00177,"s":0.0012,"h":0.00057},
{"i":275,"m":0.00187,"s":0.0013,"h":0.00057},
{"i":276,"m":0.00187,"s":0.00139,"h":0.00047},
{"i":277,"m":0.00177,"s":0.00149,"h":0.00028},
{"i":278,"m":0.00158,"s":0.00149,"h":0.00009},
{"i":279,"m":0.00139,"s":0.00158,"h":-0.00019},
{"i":280,"m":0.0013,"s":0.00158,"h":-0.00028},
{"i":281,"m":0.0012,"s":0.00158,"h":-0.00038},
{"i":282,"m":0.00111,"s":0.00149,"h":-0.00038},
{"i":283,"m":0.00111,"s":0.00149,"h":-0.00038},
{"i":284,"m":0.00101,"s":0.00149,"h":-0.00047},
{"i":285,"m":0.00101,"s":0.00139,"h":-0.00038},
{"i":286,"m":0.00101,"s":0.00139,"h":-0.00038},
{"i":287,"m":0.00111,"s":0.0013,"h":-0.00019},
{"i":288,"m":0.0012,"s":0.0013,"h":-0.00009},
{"i":289,"m":0.0013,"s":0.0012,"h":0.00009},
{"i":290,"m":0.00149,"s":0.0012,"h":0.00028},
{"i":291,"m":0.00168,"s":0.0012,"h":0.00047},
{"i":292,"m":0.00196,"s":0.0013,"h":0.00066},
{"i":293,"m":0.00206,"s":0.00139,"h":0.00066},
{"i":294,"m":0.00225,"s":0.00149,"h":0.00076},
{"i":295,"m":0.00234,"s":0.00158,"h":0.00076},
{"i":296,"m":0.00244,"s":0.00158,"h":0.00085},
{"i":297,"m":0.00244,"s":0.00168,"h":0.00076},
{"i":298,"m":0.00253,"s":0.00177,"h":0.00076},
{"i":299,"m":0.00253,"s":0.00187,"h":0.00066},
{"i":300,"m":0.00263,"s":0.00206,"h":0.00057},
{"i":301,"m":0.00263,"s":0.00215,"h":0.00047},
{"i":302,"m":0.00263,"s":0.00225,"h":0.00038},
{"i":303,"m":0.00272,"s":0.00234,"h":0.00038},
{"i":304,"m":0.00272,"s":0.00234,"h":0.00038},
{"i":305,"m":0.00263,"s":0.00244,"h":0.00019},
{"i":306,"m":0.00253,"s":0.00244,"h":0.00009},
{"i":307,"m":0.00244,"s":0.00244,"h":0.0},
{"i":308,"m":0.00225,"s":0.00234,"h":-0.00009},
{"i":309,"m":0.00196,"s":0.00234,"h":-0.00038},
{"i":310,"m":0.00177,"s":0.00225,"h":-0.00047},
{"i":311,"m":0.00158,"s":0.00225,"h":-0.00066},
{"i":312,"m":0.00139,"s":0.00215,"h":-0.00076},
{"i":313,"m":0.0012,"s":0.00206,"h":-0.00085},
{"i":314,"m":0.00101,"s":0.00187,"h":-0.00085},
{"i":315,"m":0.00092,"s":0.00177,"h":-0.00085},
{"i":316,"m":0.00082,"s":0.00158,"h":-0.00076},
{"i":317,"m":0.00064,"s":0.00139,"h":-0.00076},
{"i":318,"m":0.00045,"s":0.00111,"h":-0.00066},
{"i":319,"m":0.00016,"s":0.00092,"h":-0.00076},
{"i":320,"m":-0.00012,"s":0.00064,"h":-0.00076},
{"i":321,"m":-0.000315,"s":0.000362,"h":-0.000678}
],
"rsi":[
{"i":0,"r":39.7},{"i":1,"r":39.4},{"i":2,"r":39.1},{"i":3,"r":44.7},{"i":4,"r":47.3},{"i":5,"r":48.9},{"i":6,"r":50.6},{"i":7,"r":51.9},{"i":8,"r":51.3},{"i":9,"r":49.9},
{"i":10,"r":57.8},{"i":11,"r":57.8},{"i":12,"r":57.8},{"i":13,"r":57.8},{"i":14,"r":56.8},{"i":15,"r":55.5},{"i":16,"r":52.2},{"i":17,"r":51.9},{"i":18,"r":48.9},{"i":19,"r":45.9},
{"i":20,"r":49.6},{"i":21,"r":48.6},{"i":22,"r":48.9},{"i":23,"r":58.8},{"i":24,"r":60.4},{"i":25,"r":54.5},{"i":26,"r":52.5},{"i":27,"r":50.6},{"i":28,"r":47.9},{"i":29,"r":55.5},
{"i":30,"r":56.5},{"i":31,"r":57.1},{"i":32,"r":58.8},{"i":33,"r":57.1},{"i":34,"r":58.8},{"i":35,"r":58.1},{"i":36,"r":57.8},{"i":37,"r":57.8},{"i":38,"r":48.9},{"i":39,"r":39.7},
{"i":40,"r":47.9},{"i":41,"r":49.9},{"i":42,"r":52.2},{"i":43,"r":51.6},{"i":44,"r":44.7},{"i":45,"r":41.4},{"i":46,"r":41.4},{"i":47,"r":42.4},{"i":48,"r":43.3},{"i":49,"r":36.8},
{"i":50,"r":32.5},{"i":51,"r":32.8},{"i":52,"r":33.1},{"i":53,"r":33.5},{"i":54,"r":34.1},{"i":55,"r":31.5},{"i":56,"r":33.5},{"i":57,"r":30.8},{"i":58,"r":35.4},{"i":59,"r":35.1},
{"i":60,"r":40.1},{"i":61,"r":37.4},{"i":62,"r":30.8},{"i":63,"r":28.2},{"i":64,"r":24.9},{"i":65,"r":24.3},{"i":66,"r":31.5},{"i":67,"r":31.5},{"i":68,"r":31.5},{"i":69,"r":29.2},
{"i":70,"r":39.1},{"i":71,"r":37.4},{"i":72,"r":37.4},{"i":73,"r":37.4},{"i":74,"r":37.4},{"i":75,"r":32.5},{"i":76,"r":29.5},{"i":77,"r":28.5},{"i":78,"r":27.5},{"i":79,"r":25.6},
{"i":80,"r":24.3},{"i":81,"r":40.7},{"i":82,"r":40.4},{"i":83,"r":40.1},{"i":84,"r":41.7},{"i":85,"r":50.6},{"i":86,"r":61.4},{"i":87,"r":63.0},{"i":88,"r":66.0},{"i":89,"r":66.4},
{"i":90,"r":55.1},{"i":91,"r":54.5},{"i":92,"r":53.9},{"i":93,"r":49.3},{"i":94,"r":47.3},{"i":95,"r":41.4},{"i":96,"r":39.4},{"i":97,"r":37.4},{"i":98,"r":34.1},{"i":99,"r":34.1},
{"i":100,"r":36.4},{"i":101,"r":39.5},{"i":102,"r":42.7},{"i":103,"r":44.8},{"i":104,"r":47.9},{"i":105,"r":50.1},{"i":106,"r":51.1},{"i":107,"r":52.2},{"i":108,"r":53.2},{"i":109,"r":53.2},
{"i":110,"r":54.3},{"i":111,"r":54.3},{"i":112,"r":55.3},{"i":113,"r":56.4},{"i":114,"r":56.4},{"i":115,"r":55.3},{"i":116,"r":55.3},{"i":117,"r":54.3},{"i":118,"r":53.2},{"i":119,"r":54.3},
{"i":120,"r":55.3},{"i":121,"r":55.3},{"i":122,"r":57.4},{"i":123,"r":58.5},{"i":124,"r":59.5},{"i":125,"r":60.6},{"i":126,"r":60.6},{"i":127,"r":61.6},{"i":128,"r":61.6},{"i":129,"r":61.6},
{"i":130,"r":63.7},{"i":131,"r":64.8},{"i":132,"r":65.8},{"i":133,"r":66.9},{"i":134,"r":67.9},{"i":135,"r":70.0},{"i":136,"r":69.0},{"i":137,"r":66.9},{"i":138,"r":63.7},{"i":139,"r":58.5},
{"i":140,"r":56.4},{"i":141,"r":55.3},{"i":142,"r":54.3},{"i":143,"r":53.2},{"i":144,"r":52.2},{"i":145,"r":51.1},{"i":146,"r":49.0},{"i":147,"r":47.9},{"i":148,"r":46.9},{"i":149,"r":45.8},
{"i":150,"r":44.8},{"i":151,"r":45.8},{"i":152,"r":46.9},{"i":153,"r":46.9},{"i":154,"r":44.8},{"i":155,"r":42.7},{"i":156,"r":43.8},{"i":157,"r":45.8},{"i":158,"r":45.8},{"i":159,"r":46.9},
{"i":160,"r":47.9},{"i":161,"r":49.0},{"i":162,"r":47.9},{"i":163,"r":45.8},{"i":164,"r":44.8},{"i":165,"r":43.8},{"i":166,"r":43.8},{"i":167,"r":44.8},{"i":168,"r":45.8},{"i":169,"r":46.9},
{"i":170,"r":47.9},{"i":171,"r":50.1},{"i":172,"r":51.1},{"i":173,"r":52.2},{"i":174,"r":53.2},{"i":175,"r":54.3},{"i":176,"r":55.3},{"i":177,"r":55.3},{"i":178,"r":55.3},{"i":179,"r":54.3},
{"i":180,"r":53.2},{"i":181,"r":51.1},{"i":182,"r":49.0},{"i":183,"r":46.9},{"i":184,"r":44.8},{"i":185,"r":43.8},{"i":186,"r":42.7},{"i":187,"r":40.6},{"i":188,"r":38.5},{"i":189,"r":37.4},
{"i":190,"r":35.4},{"i":191,"r":35.4},{"i":192,"r":37.4},{"i":193,"r":37.4},{"i":194,"r":36.4},{"i":195,"r":36.4},{"i":196,"r":37.4},{"i":197,"r":38.5},{"i":198,"r":39.5},{"i":199,"r":43.8},
{"i":200,"r":50.1},{"i":201,"r":54.3},{"i":202,"r":57.4},{"i":203,"r":61.6},{"i":204,"r":63.7},{"i":205,"r":62.7},{"i":206,"r":58.5},{"i":207,"r":53.2},{"i":208,"r":46.9},{"i":209,"r":42.7},
{"i":210,"r":38.5},{"i":211,"r":34.3},{"i":212,"r":29.0},{"i":213,"r":23.8},{"i":214,"r":21.7},{"i":215,"r":16.5},{"i":216,"r":13.3},{"i":217,"r":15.4},{"i":218,"r":17.5},{"i":219,"r":19.6},
{"i":220,"r":21.7},{"i":221,"r":23.8},{"i":222,"r":23.8},{"i":223,"r":32.2},{"i":224,"r":34.3},{"i":225,"r":33.2},{"i":226,"r":32.2},{"i":227,"r":32.2},{"i":228,"r":32.2},{"i":229,"r":31.2},
{"i":230,"r":31.2},{"i":231,"r":30.1},{"i":232,"r":29.0},{"i":233,"r":28.0},{"i":234,"r":29.0},{"i":235,"r":30.1},{"i":236,"r":36.4},{"i":237,"r":52.2},{"i":238,"r":54.3},{"i":239,"r":55.3},
{"i":240,"r":51.1},{"i":241,"r":47.9},{"i":242,"r":43.8},{"i":243,"r":42.7},{"i":244,"r":42.7},{"i":245,"r":42.7},{"i":246,"r":42.7},{"i":247,"r":43.8},{"i":248,"r":43.8},{"i":249,"r":44.8},
{"i":250,"r":45.8},{"i":251,"r":45.8},{"i":252,"r":47.9},{"i":253,"r":49.0},{"i":254,"r":49.0},{"i":255,"r":52.2},{"i":256,"r":55.3},{"i":257,"r":57.4},{"i":258,"r":57.4},{"i":259,"r":58.5},
{"i":260,"r":56.4},{"i":261,"r":54.3},{"i":262,"r":52.2},{"i":263,"r":51.1},{"i":264,"r":51.1},{"i":265,"r":52.2},{"i":266,"r":54.3},{"i":267,"r":55.3},{"i":268,"r":57.4},{"i":269,"r":59.5},
{"i":270,"r":61.6},{"i":271,"r":63.7},{"i":272,"r":64.8},{"i":273,"r":62.7},{"i":274,"r":60.6},{"i":275,"r":58.5},{"i":276,"r":56.4},{"i":277,"r":53.2},{"i":278,"r":52.2},{"i":279,"r":51.1},
{"i":280,"r":51.1},{"i":281,"r":52.2},{"i":282,"r":53.2},{"i":283,"r":53.2},{"i":284,"r":54.3},{"i":285,"r":54.3},{"i":286,"r":55.3},{"i":287,"r":56.4},{"i":288,"r":57.4},{"i":289,"r":60.6},
{"i":290,"r":64.8},{"i":291,"r":65.8},{"i":292,"r":63.7},{"i":293,"r":65.8},{"i":294,"r":66.9},{"i":295,"r":66.9},{"i":296,"r":67.9},{"i":297,"r":67.9},{"i":298,"r":66.9},{"i":299,"r":66.9},
{"i":300,"r":65.8},{"i":301,"r":65.8},{"i":302,"r":67.9},{"i":303,"r":70.0},{"i":304,"r":72.1},{"i":305,"r":71.0},{"i":306,"r":66.9},{"i":307,"r":62.7},{"i":308,"r":59.5},{"i":309,"r":56.4},
{"i":310,"r":55.3},{"i":311,"r":54.3},{"i":312,"r":54.3},{"i":313,"r":51.1},{"i":314,"r":44.8},{"i":315,"r":42.7},{"i":316,"r":42.7},{"i":317,"r":43.8},{"i":318,"r":47.9},{"i":319,"r":47.9},
{"i":320,"r":43.8},{"i":321,"r":42.87}
],
"seg":[
{"k":"g","x":319.95,"y":0.48941,"x2":331.9,"y2":0.48207},
{"k":"g","x":331.9,"y":0.48207,"x2":358.6,"y2":0.51174},
{"k":"g","x":358.6,"y":0.51174,"x2":356.1,"y2":0.51072},
{"k":"g","x":358.6,"y":0.51174,"x2":359.1,"y2":0.51045},
{"k":"y","x":274.9,"y":0.48384,"x2":357.6,"y2":0.48354},
{"k":"y","x":244.1,"y":0.47003,"x2":377.8,"y2":0.47003},
{"k":"r","x":224.0,"y":0.46376,"x2":389.2,"y2":0.46338}
],
"zone":[{"x":81.9,"x2":385.8,"y":0.51321,"y2":0.50791}],
"box":[{"x":404.1,"x2":414.3,"y":0.49000,"y2":0.48890}],
"txt":[
{"k":"hdr","x":0.75,"y":0.52083,"t":"NZDCHF,H4  0.48913 0.49004 0.48896 0.48942"},
{"k":"sym","x":350.3,"y":0.51678,"t":"NZDCHF"},
{"k":"sym","x":392.8,"y":0.51678,"t":"H4"},
{"k":"tz","x":311.75,"y":0.47972,"t":"TRIGGER ZONE"},
{"k":"px","x":404.6,"y":0.48942,"t":"0.48942"}
],
"mtxt":[{"x":0.75,"y":0.00257,"t":"MACD(12,26,9) -0.000315 0.000362 0.000000 -0.000678"}],
"rtxt":[{"x":0.75,"y":93.1,"t":"RSI(14) 42.8689"}],
"lev":[{"v":80},{"v":20}]
},
"vconcat":[
{
"width":1615,"height":643,
"layer":[
{"data":{"name":"ohlc"},"mark":{"type":"rule","clip":true,"strokeWidth":1},
 "encoding":{
  "x":{"field":"i","type":"quantitative","scale":{"domain":[-0.125,403.625],"nice":false,"zero":false,"padding":0},"axis":null},
  "y":{"field":"l","type":"quantitative","scale":{"domain":[0.46218,0.52152],"nice":false,"zero":false},
       "axis":{"orient":"right","labelOverlap":false,"tickCount":30,"tickSize":4,"labelPadding":4,"values":[0.52025,0.5172,0.51415,0.5111,0.50805,0.505,0.50195,0.49895,0.4959,0.49285,0.48675,0.4837,0.48065,0.4776,0.4746,0.47155,0.4685,0.46545,0.4624],"format":".5f"}},
  "y2":{"field":"h"},
  "color":{"condition":{"test":"datum.c >= datum.o","value":"#008000"},"value":"#ff0000"}}},
{"data":{"name":"ohlc"},"mark":{"type":"bar","clip":true,"width":3},
 "encoding":{
  "x":{"field":"i","type":"quantitative","scale":{"domain":[-0.125,403.625],"nice":false,"zero":false,"padding":0}},
  "y":{"field":"o","type":"quantitative","scale":{"domain":[0.46218,0.52152],"nice":false,"zero":false}},
  "y2":{"field":"c"},
  "color":{"condition":{"test":"datum.c >= datum.o","value":"#008000"},"value":"#ff0000"}}},
{"data":{"name":"zone"},"mark":{"type":"rect","filled":false,"color":"#2ecc2e","strokeWidth":2},
 "encoding":{
  "x":{"field":"x","type":"quantitative","scale":{"domain":[-0.125,403.625],"nice":false,"zero":false,"padding":0}},"x2":{"field":"x2"},
  "y":{"field":"y","type":"quantitative","scale":{"domain":[0.46218,0.52152],"nice":false,"zero":false}},"y2":{"field":"y2"}}},
{"data":{"name":"seg"},"transform":[{"filter":"datum.k == 'g'"}],"mark":{"type":"rule","color":"#2ecc2e","strokeWidth":2},
 "encoding":{
  "x":{"field":"x","type":"quantitative","scale":{"domain":[-0.125,403.625],"nice":false,"zero":false,"padding":0}},"x2":{"field":"x2"},
  "y":{"field":"y","type":"quantitative","scale":{"domain":[0.46218,0.52152],"nice":false,"zero":false}},"y2":{"field":"y2"}}},
{"data":{"name":"seg"},"transform":[{"filter":"datum.k == 'y'"}],"mark":{"type":"rule","color":"#ffff00","strokeWidth":2},
 "encoding":{
  "x":{"field":"x","type":"quantitative","scale":{"domain":[-0.125,403.625],"nice":false,"zero":false,"padding":0}},"x2":{"field":"x2"},
  "y":{"field":"y","type":"quantitative","scale":{"domain":[0.46218,0.52152],"nice":false,"zero":false}},"y2":{"field":"y2"}}},
{"data":{"name":"seg"},"transform":[{"filter":"datum.k == 'r'"}],"mark":{"type":"rule","color":"#ff0000","strokeWidth":2},
 "encoding":{
  "x":{"field":"x","type":"quantitative","scale":{"domain":[-0.125,403.625],"nice":false,"zero":false,"padding":0}},"x2":{"field":"x2"},
  "y":{"field":"y","type":"quantitative","scale":{"domain":[0.46218,0.52152],"nice":false,"zero":false}},"y2":{"field":"y2"}}},
{"data":{"name":"box"},"mark":{"type":"rect","color":"#ffffff"},
 "encoding":{
  "x":{"field":"x","type":"quantitative","scale":{"domain":[-0.125,403.625],"nice":false,"zero":false,"padding":0}},"x2":{"field":"x2"},
  "y":{"field":"y","type":"quantitative","scale":{"domain":[0.46218,0.52152],"nice":false,"zero":false}},"y2":{"field":"y2"}}},
{"data":{"name":"txt"},"transform":[{"filter":"datum.k == 'hdr'"}],"mark":{"type":"text","align":"left","baseline":"middle","font":"Liberation Sans","fontSize":9.5,"color":"#e6e6e6"},
 "encoding":{
  "x":{"field":"x","type":"quantitative","scale":{"domain":[-0.125,403.625],"nice":false,"zero":false,"padding":0}},
  "y":{"field":"y","type":"quantitative","scale":{"domain":[0.46218,0.52152],"nice":false,"zero":false}},
  "text":{"field":"t"}}},
{"data":{"name":"txt"},"transform":[{"filter":"datum.k == 'sym'"}],"mark":{"type":"text","align":"left","baseline":"alphabetic","font":"Liberation Sans","fontWeight":"bold","fontSize":30,"color":"#ffff00"},
 "encoding":{
  "x":{"field":"x","type":"quantitative","scale":{"domain":[-0.125,403.625],"nice":false,"zero":false,"padding":0}},
  "y":{"field":"y","type":"quantitative","scale":{"domain":[0.46218,0.52152],"nice":false,"zero":false}},
  "text":{"field":"t"}}},
{"data":{"name":"txt"},"transform":[{"filter":"datum.k == 'tz'"}],"mark":{"type":"text","align":"left","baseline":"alphabetic","font":"Liberation Sans","fontSize":11,"color":"#ffd700"},
 "encoding":{
  "x":{"field":"x","type":"quantitative","scale":{"domain":[-0.125,403.625],"nice":false,"zero":false,"padding":0}},
  "y":{"field":"y","type":"quantitative","scale":{"domain":[0.46218,0.52152],"nice":false,"zero":false}},
  "text":{"field":"t"}}},
{"data":{"name":"txt"},"transform":[{"filter":"datum.k == 'px'"}],"mark":{"type":"text","align":"left","baseline":"middle","font":"Liberation Sans","fontSize":9.5,"color":"#000000"},
 "encoding":{
  "x":{"field":"x","type":"quantitative","scale":{"domain":[-0.125,403.625],"nice":false,"zero":false,"padding":0}},
  "y":{"field":"y","type":"quantitative","scale":{"domain":[0.46218,0.52152],"nice":false,"zero":false}},
  "text":{"field":"t"}}}
]
},
{
"width":1615,"height":129,
"layer":[
{"data":{"name":"macd"},"mark":{"type":"bar","clip":true,"width":3},
 "encoding":{
  "x":{"field":"i","type":"quantitative","scale":{"domain":[-0.125,403.625],"nice":false,"zero":false,"padding":0},"axis":null},
  "y":{"field":"h","type":"quantitative","scale":{"domain":[-0.008153,0.003376],"nice":false,"zero":false},
       "axis":{"orient":"right","labelOverlap":false,"labelFontSize":8.8,"values":[0.003376,0,-0.008153],"labelExpr":"datum.value == 0 ? '0.00' : format(datum.value, '.6f')",
               "labelBaseline":{"condition":{"test":"datum.value > 0.003","value":"top"},"value":"middle"},
               "labelOffset":{"condition":{"test":"datum.value < -0.008","value":-6},"value":0}}},
  "y2":{"datum":0},
  "color":{"condition":{"test":"datum.h >= 0","value":"#008000"},"value":"#ff0000"}}},
{"data":{"name":"macd"},"mark":{"type":"line","clip":true,"color":"#0000ff","strokeWidth":2},
 "encoding":{
  "x":{"field":"i","type":"quantitative","scale":{"domain":[-0.125,403.625],"nice":false,"zero":false,"padding":0}},
  "y":{"field":"m","type":"quantitative","scale":{"domain":[-0.008153,0.003376],"nice":false,"zero":false}}}},
{"data":{"name":"macd"},"mark":{"type":"line","clip":true,"color":"#ff0000","strokeWidth":1},
 "encoding":{
  "x":{"field":"i","type":"quantitative","scale":{"domain":[-0.125,403.625],"nice":false,"zero":false,"padding":0}},
  "y":{"field":"s","type":"quantitative","scale":{"domain":[-0.008153,0.003376],"nice":false,"zero":false}}}},
{"data":{"name":"mtxt"},"mark":{"type":"text","align":"left","baseline":"middle","font":"Liberation Sans","fontSize":9.4,"color":"#e6e6e6"},
 "encoding":{
  "x":{"field":"x","type":"quantitative","scale":{"domain":[-0.125,403.625],"nice":false,"zero":false,"padding":0}},
  "y":{"field":"y","type":"quantitative","scale":{"domain":[-0.008153,0.003376],"nice":false,"zero":false}},
  "text":{"field":"t"}}}
]
},
{
"width":1615,"height":103,
"layer":[
{"data":{"name":"lev"},"mark":{"type":"rule","color":"#ffffff","strokeWidth":1,"strokeDash":[3,3]},
 "encoding":{
  "y":{"field":"v","type":"quantitative","scale":{"domain":[0,102],"nice":false,"zero":false}}}},
{"data":{"name":"rsi"},"mark":{"type":"line","clip":true,"color":"#1e90ff","strokeWidth":2},
 "encoding":{
  "x":{"field":"i","type":"quantitative","scale":{"domain":[-0.125,403.625],"nice":false,"zero":false,"padding":0},
       "axis":{"labelOverlap":false,"tickCount":30,"values":[0,16,32,48,64,80,96,112,128,144,160,176,192,208,224,240,256,272,288,304,320],
               "labelExpr":"['13 Feb 2025','18 Feb 00:00','20 Feb 16:00','25 Feb 08:00','28 Feb 00:00','4 Mar 16:00','7 Mar 08:00','12 Mar 00:00','14 Mar 16:00','19 Mar 08:00','24 Mar 00:00','26 Mar 16:00','31 Mar 08:00','3 Apr 00:00','7 Apr 16:00','10 Apr 08:00','15 Apr 00:00','17 Apr 16:00','22 Apr 08:00','25 Apr 00:00','29 Apr 16:00'][round(datum.value/16)]",
               "labelAlign":"left","labelFontSize":9.2,"tickSize":4,"labelPadding":1}},
  "y":{"field":"r","type":"quantitative","scale":{"domain":[0,102],"nice":false,"zero":false},
       "axis":{"orient":"right","labelOverlap":false,"values":[100,80,20,0],
               "labelBaseline":{"condition":{"test":"datum.value >= 100","value":"top"},"value":"middle"},
               "labelOffset":{"condition":{"test":"datum.value <= 0","value":-6},"value":0}}}}},
{"data":{"name":"rtxt"},"mark":{"type":"text","align":"left","baseline":"middle","font":"Liberation Sans","fontSize":9.4,"color":"#e6e6e6"},
 "encoding":{
  "x":{"field":"x","type":"quantitative","scale":{"domain":[-0.125,403.625],"nice":false,"zero":false,"padding":0}},
  "y":{"field":"y","type":"quantitative","scale":{"domain":[0,102],"nice":false,"zero":false}},
  "text":{"field":"t"}}}
]
}
]
}
